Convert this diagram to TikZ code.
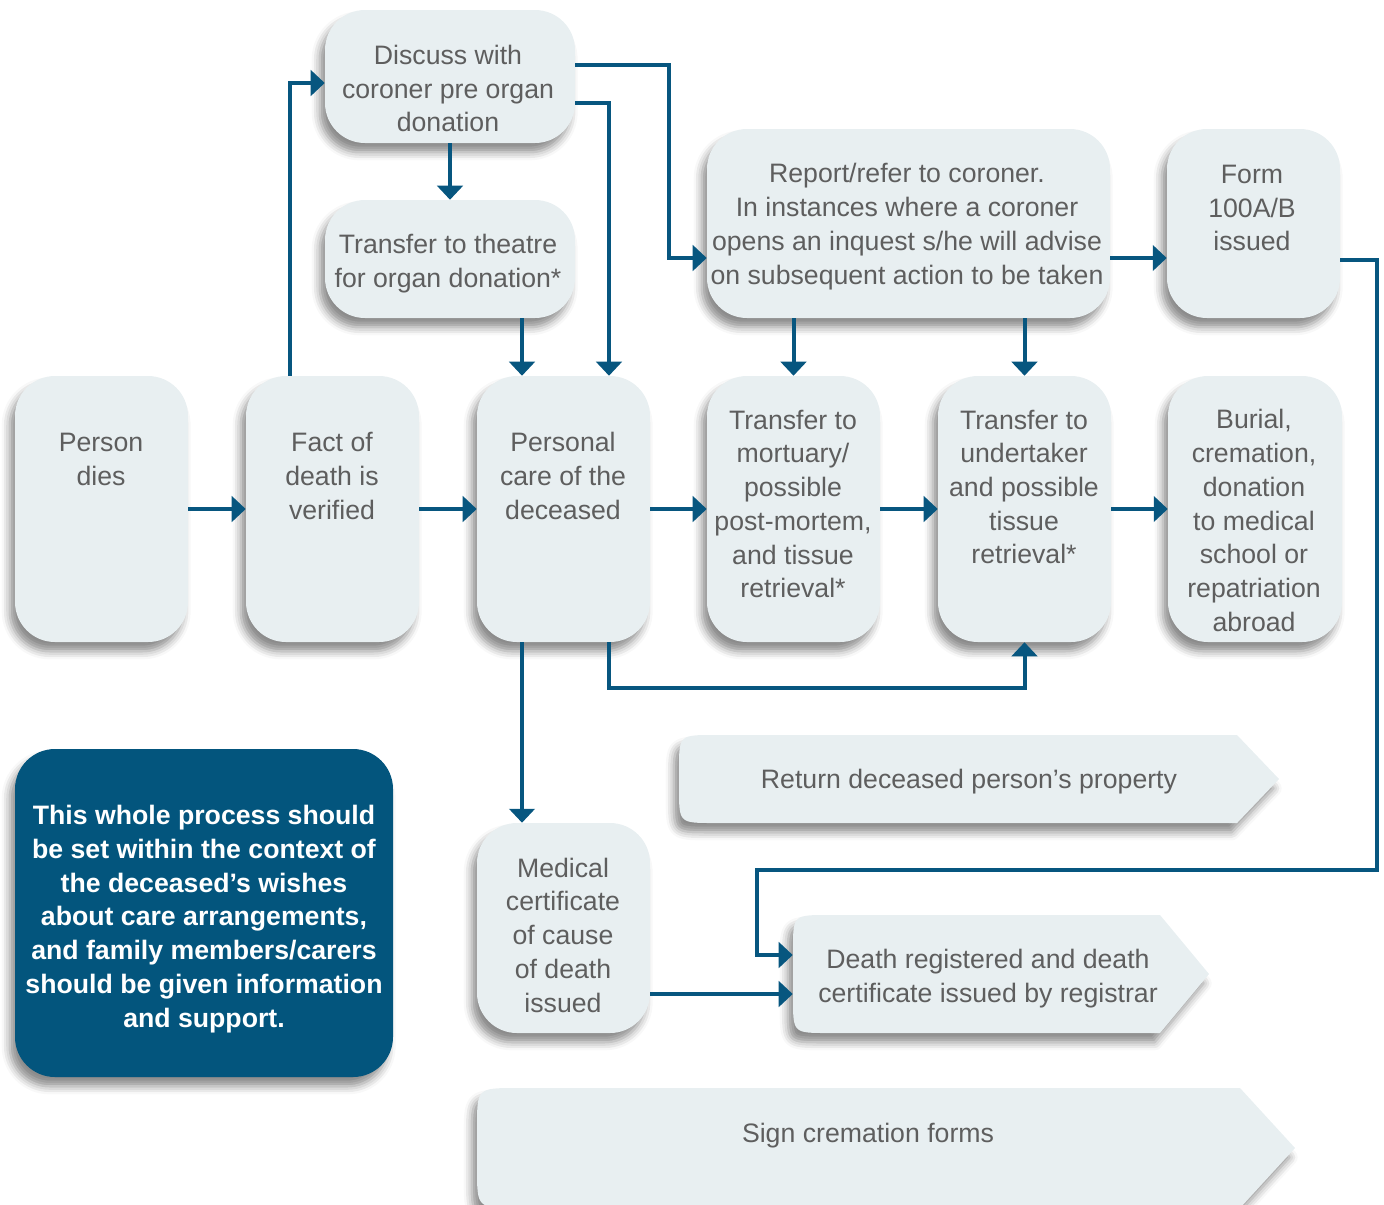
\documentclass[tikz,border=0pt]{standalone}
\usepackage{fontspec}
\setmainfont{Liberation Sans}
\usetikzlibrary{shadows.blur,arrows.meta}
\definecolor{boxc}{HTML}{E8EFF1}
\definecolor{txtc}{HTML}{5E5E5E}
\definecolor{arrc}{HTML}{07567F}
\definecolor{darkc}{HTML}{03557D}
\begin{document}
\begin{tikzpicture}[x=0.75pt,y=-0.75pt,
  shad/.style={blur shadow={shadow xshift=-4pt, shadow yshift=-7pt, shadow blur radius=6pt, shadow opacity=45}},
  box/.style={shad, fill=boxc, rounded corners=30pt, inner sep=0pt, draw=none},
  bx/.style 2 args={box, minimum width=#1*0.75pt, minimum height=#2*0.75pt},
  lbl/.style={text=txtc, align=center, inner sep=0pt, font=\fontsize{20pt}{25.3pt}\selectfont},
  conn/.style={draw=arrc, line width=3pt, -{Triangle[width=19pt,length=10.5pt]}},
]
\useasboundingbox (0,0) rectangle (1384,1204);

% main row
\node[bx={173}{266}] (pd) at (101.5,509) {};
\node[bx={173}{266}] (fd) at (332.5,509) {};
\node[bx={173}{266}] (pc) at (563.5,509) {};
\node[bx={173}{266}] (tm) at (793.5,509) {};
\node[bx={173}{266}] (tu) at (1024.5,509) {};
\node[bx={174}{266}] (bu) at (1255,509) {};
% upper
\node[bx={250}{133}] (dc) at (450,76.5) {};
\node[bx={250}{118}] (tt) at (450,259) {};
\node[bx={403}{189}] (rr) at (908.5,223.5) {};
\node[bx={173}{189}] (fm) at (1253.5,223.5) {};
% lower
\node[bx={173}{210}] (mc) at (563.5,928) {};
\node[shad, fill=darkc, rounded corners=30pt, inner sep=0pt, minimum width=378*0.75pt, minimum height=328*0.75pt] (note) at (204,913) {};
\node[text=white, align=center, inner sep=0pt, font=\fontsize{20pt}{25.3pt}\selectfont\bfseries] (notet) at (204,919)
  {This whole process should\\be set within the context of\\the deceased’s wishes\\about care arrangements,\\and family members/carers\\should be given information\\and support.};

% pentagons
\path[shad, fill=boxc] (714,735) -- (1237,735) -- (1279,779) -- (1237,823) -- (714,823)
  .. controls (679,823) .. (679,788) -- (679,770) .. controls (679,735) .. (714,735) -- cycle;
\path[shad, fill=boxc] (828,915) -- (1160,915) -- (1209,974) -- (1160,1033) -- (828,1033)
  .. controls (793,1033) .. (793,998) -- (793,950) .. controls (793,915) .. (828,915) -- cycle;
\path[shad, fill=boxc] (517,1088) -- (1240,1088) -- (1295,1148) -- (1240,1208) -- (517,1208)
  .. controls (477,1208) .. (477,1168) -- (477,1128) .. controls (477,1088) .. (517,1088) -- cycle;
\node[inner sep=0pt, minimum width=416*0.75pt, minimum height=118*0.75pt] (dr) at (1001,974) {};

% labels
\node[lbl] (pdt) at (101,459.5) {Person\\dies};
\node[lbl] (fdt) at (332,476) {Fact of\\death is\\verified};
\node[lbl] (pct) at (563,476) {Personal\\care of the\\deceased};
\node[lbl] (tmt) at (793,504) {Transfer to\\mortuary/\\possible\\post-mortem,\\and tissue\\retrieval*};
\node[lbl] (tut) at (1024,487) {Transfer to\\undertaker\\and possible\\tissue\\retrieval*};
\node[lbl] (but) at (1254,520.5) {Burial,\\cremation,\\donation\\to medical\\school or\\repatriation\\abroad};
\node[lbl] (dct) at (448,88.5) {Discuss with\\coroner pre organ\\donation};
\node[lbl] (ttt) at (448,263.5) {Transfer to theatre\\for organ donation*};
\node[lbl] (rrt) at (907,226.5) {Report/refer to coroner.\\In instances where a coroner\\opens an inquest s/he will advise\\on subsequent action to be taken};
\node[lbl] (fmt) at (1252,208) {Form\\100A/B\\issued};
\node[lbl] (mct) at (563,935) {Medical\\certificate\\of cause\\of death\\issued};
\node[lbl] (rett) at (969,782) {Return deceased person’s property};
\node[lbl] (drt) at (988,978.5) {Death registered and death\\certificate issued by registrar};
\node[lbl] (sgt) at (868,1136) {Sign cremation forms};

% connectors
\draw[conn] (pd.east) -- (fd.west);
\draw[conn] (fd.east) -- (pc.west);
\draw[conn] (pc.east) -- (tm.west);
\draw[conn] (tm.east) -- (tu.west);
\draw[conn] (tu.east) -- (bu.west);
\draw[conn] ([shift={(-42.5,0)}]fd.north) |- ([shift={(0,6.5)}]dc.west);
\draw[conn] (dc.south) -- (tt.north);
\draw[conn] ([shift={(72,0)}]tt.south) -- ([shift={(-41.5,0)}]pc.north);
\draw[conn] ([shift={(0,26.5)}]dc.east) -| ([shift={(45.5,0)}]pc.north);
\draw[conn] ([shift={(0,-11.5)}]dc.east) -- ++(94,0) |- ([shift={(0,34.5)}]rr.west);
\draw[conn] (rr.south -| tm.north) -- (tm.north);
\draw[conn] (rr.south -| tu.north) -- (tu.north);
\draw[conn] ([shift={(0,34.5)}]rr.east) -- ([shift={(0,34.5)}]fm.west);
\draw[conn] ([shift={(0,36.5)}]fm.east) -- ++(37,0) -- ++(0,610) -| ([shift={(-36,-19)}]dr.west) -- ([shift={(0,-19)}]dr.west);
\draw[conn] ([shift={(-41.5,0)}]pc.south) -- ([shift={(-41.5,0)}]mc.north);
\draw[conn] ([shift={(45.5,0)}]pc.south) -- ++(0,46) -| (tu.south);
\draw[conn] ([shift={(0,66)}]mc.east) -- ([shift={(0,20)}]dr.west);
\end{tikzpicture}
\end{document}
